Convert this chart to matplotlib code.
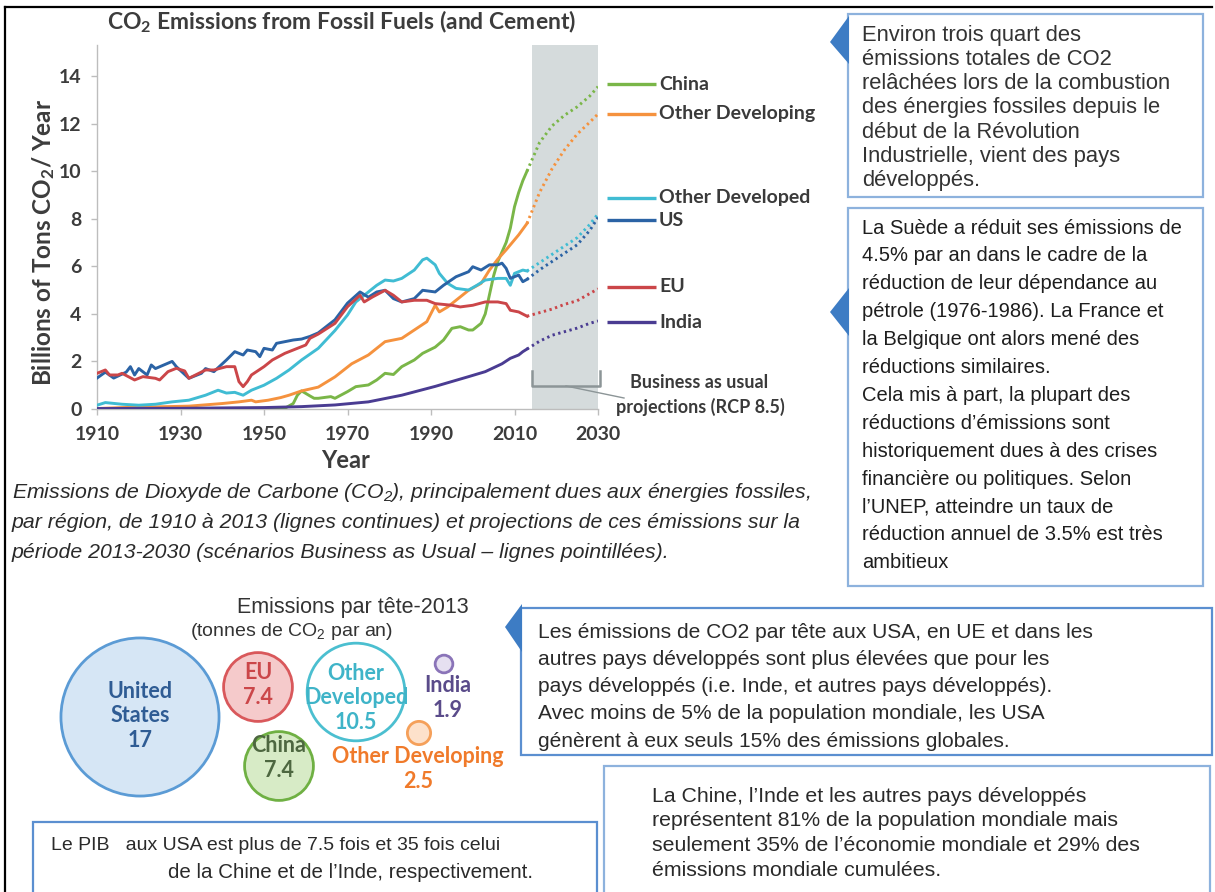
import matplotlib
matplotlib.use("Agg")
from matplotlib import pyplot as plt
from matplotlib.patches import Circle, Rectangle, Polygon

plt.rcParams['mathtext.default'] = 'regular'

# ---- emissions data (billions of tons CO2 / year) ----
us_years = [1910, 1912, 1914, 1917, 1918, 1919, 1920, 1922, 1923, 1924, 1926,
            1928, 1929, 1932, 1935, 1936, 1938, 1941, 1943, 1945, 1946, 1948,
            1949, 1950, 1952, 1953, 1955, 1957, 1959, 1961, 1963, 1967, 1970,
            1973, 1975, 1977, 1979, 1981, 1983, 1986, 1988, 1991, 1993, 1996,
            1999, 2000, 2002, 2004, 2006, 2007, 2008, 2009, 2011, 2012, 2013]
us_vals = [1.3, 1.55, 1.3, 1.55, 1.78, 1.43, 1.7, 1.43, 1.85, 1.7, 1.85,
           2.0, 1.78, 1.29, 1.5, 1.7, 1.57, 2.06, 2.41, 2.27, 2.48, 2.41,
           2.2, 2.55, 2.48, 2.76, 2.83, 2.9, 2.94, 3.05, 3.2, 3.75, 4.45,
           4.92, 4.7, 4.92, 4.99, 4.64, 4.5, 4.64, 4.99, 4.92, 5.2, 5.56,
           5.77, 5.98, 5.84, 6.06, 6.06, 6.13, 5.91, 5.49, 5.63, 5.35, 5.45]

eu_years = [1910, 1912, 1913, 1915, 1916, 1919, 1921, 1924, 1925, 1927, 1929,
            1931, 1932, 1936, 1938, 1941, 1943, 1944, 1945, 1946, 1947, 1950,
            1952, 1955, 1957, 1960, 1961, 1963, 1967, 1970, 1973, 1974, 1976,
            1979, 1981, 1983, 1986, 1989, 1991, 1995, 1997, 2000, 2003, 2006,
            2008, 2009, 2011, 2013]
eu_vals = [1.5, 1.64, 1.43, 1.43, 1.5, 1.22, 1.36, 1.29, 1.22, 1.57, 1.71,
           1.6, 1.29, 1.64, 1.64, 1.78, 1.78, 1.15, 0.94, 1.15, 1.43, 1.78,
           2.06, 2.34, 2.48, 2.69, 2.97, 3.15, 3.6, 4.3, 4.78, 4.5, 4.71,
           4.99, 4.78, 4.5, 4.57, 4.57, 4.43, 4.36, 4.29, 4.36, 4.5, 4.5,
           4.43, 4.15, 4.08, 3.9]

odev_years = [1910, 1912, 1916, 1920, 1924, 1928, 1932, 1936, 1939, 1941, 1943,
              1945, 1947, 1950, 1953, 1956, 1959, 1963, 1967, 1970, 1972, 1975,
              1977, 1979, 1981, 1983, 1986, 1988, 1989, 1991, 1992, 1994, 1996,
              1999, 2001, 2003, 2006, 2008, 2009, 2010, 2012, 2013]
odev_vals = [0.16, 0.27, 0.2, 0.16, 0.2, 0.3, 0.37, 0.58, 0.79, 0.67, 0.7,
             0.58, 0.79, 1.0, 1.29, 1.64, 2.06, 2.55, 3.3, 3.95, 4.5, 4.92,
             5.2, 5.42, 5.38, 5.49, 5.84, 6.27, 6.34, 6.06, 5.7, 5.28, 5.07,
             5.0, 5.2, 5.42, 5.49, 5.49, 5.2, 5.7, 5.84, 5.8]

odevg_years = [1910, 1916, 1924, 1932, 1940, 1944, 1947, 1948, 1951, 1954, 1956,
               1959, 1963, 1967, 1971, 1975, 1977, 1979, 1983, 1986, 1989, 1991,
               1992, 1994, 1997, 1999, 2002, 2004, 2006, 2008, 2011, 2013]
odevg_vals = [0.02, 0.06, 0.09, 0.12, 0.23, 0.3, 0.37, 0.3, 0.37, 0.48, 0.58,
              0.76, 0.92, 1.35, 1.9, 2.27, 2.55, 2.83, 2.97, 3.32, 3.67, 4.36,
              4.08, 4.29, 4.71, 4.99, 5.28, 5.84, 6.3, 6.69, 7.32, 7.8]

china_years = [1910, 1930, 1955, 1957, 1958, 1959, 1961, 1962, 1963, 1966, 1967,
               1970, 1972, 1975, 1977, 1979, 1981, 1983, 1986, 1988, 1991, 1993,
               1995, 1997, 1999, 2000, 2002, 2003, 2004, 2005, 2006, 2007, 2008,
               2009, 2010, 2011, 2012, 2013]
china_vals = [0.02, 0.02, 0.03, 0.23, 0.58, 0.76, 0.55, 0.45, 0.45, 0.52, 0.45,
              0.73, 0.94, 1.01, 1.22, 1.5, 1.45, 1.78, 2.06, 2.34, 2.6, 2.9,
              3.39, 3.46, 3.32, 3.32, 3.6, 4.0, 4.8, 5.6, 6.2, 6.6, 7.0,
              7.6, 8.5, 9.1, 9.6, 10.0]

india_years = [1910, 1930, 1950, 1959, 1967, 1975, 1983, 1991, 1999, 2003, 2007,
               2009, 2011, 2012, 2013]
india_vals = [0.02, 0.03, 0.06, 0.1, 0.17, 0.3, 0.58, 0.95, 1.36, 1.57, 1.9,
              2.13, 2.27, 2.41, 2.52]

# business-as-usual projections (dotted)
proj_years = [2013, 2016, 2019, 2022, 2025, 2028, 2030]
china_proj = [10.0, 11.2, 11.9, 12.35, 12.7, 13.15, 13.55]
odevg_proj = [7.8, 9.1, 10.1, 10.9, 11.55, 12.05, 12.4]
odev_proj = [5.8, 6.15, 6.5, 6.85, 7.2, 7.75, 8.2]
us_proj = [5.45, 5.85, 6.2, 6.55, 6.9, 7.5, 8.05]
eu_proj = [3.9, 4.05, 4.2, 4.4, 4.55, 4.85, 5.05]
india_proj = [2.52, 2.85, 3.1, 3.25, 3.4, 3.6, 3.7]

series_names = ['China', 'Other Developing', 'Other Developed', 'US', 'EU', 'India']
series_colors = ['#7ab648', '#f5923e', '#40bcd3', '#2b63a5', '#cb4649', '#4a3c92']
hist_years = [china_years, odevg_years, odev_years, us_years, eu_years, india_years]
hist_vals = [china_vals, odevg_vals, odev_vals, us_vals, eu_vals, india_vals]
proj_vals = [china_proj, odevg_proj, odev_proj, us_proj, eu_proj, india_proj]

# per-capita bubbles (tonnes CO2 / year, 2013)
bubble_names = ['United\nStates', 'EU', 'Other\nDeveloped', 'India', 'China',
                'Other Developing']
bubble_values = [17, 7.4, 10.5, 1.9, 7.4, 2.5]

# ---- figure ----
W, H = 1215, 892
fig = plt.figure(figsize=(W / 100, H / 100), dpi=100)
fig.patch.set_facecolor('white')

bg = fig.add_axes([0, 0, 1, 1])
bg.set_xlim(0, W)
bg.set_ylim(H, 0)
bg.axis('off')
bg.set_zorder(2)

# page frame (left and top)
bg.plot([5, 5], [7, H], color='black', lw=1.6)
bg.plot([5, 1212], [7, 7], color='black', lw=1.6)

# ---- line chart ----
ax = fig.add_axes([97 / W, 1 - 409 / H, (598 - 97) / W, (409 - 45) / H])
ax.set_zorder(1)
ax.set_xlim(1910, 2030)
ax.set_ylim(0, 15.3)
ax.axvspan(2014.3, 2030, color='#d5dbdc', zorder=0, lw=0)

for yrs, vals, pv, col in zip(hist_years, hist_vals, proj_vals, series_colors):
    ax.plot(yrs, vals, color=col, lw=2.1, zorder=3, solid_joinstyle='round')
    ax.plot(proj_years, pv, color=col, lw=2.1, ls=(0, (0.8, 1.2)), zorder=3)

for s in ['top', 'right']:
    ax.spines[s].set_visible(False)
for s in ['left', 'bottom']:
    ax.spines[s].set_color('#bdbdbd')
    ax.spines[s].set_linewidth(1.0)
ax.set_xticks(range(1910, 2031, 20))
ax.set_yticks(range(0, 15, 2))
ax.tick_params(colors='#bdbdbd', length=4, width=1.0)
for lab in ax.get_xticklabels() + ax.get_yticklabels():
    lab.set_color('#3c3c3c')
    lab.set_fontweight('bold')
    lab.set_fontsize(14)
    lab.set_family('Lato')
ax.tick_params(axis='x', pad=8)
ax.tick_params(axis='y', pad=7)

# legend labels at right of the chart
legend_y = [84, 114, 198, 220, 287, 322]
for name, col, ly in zip(series_names, series_colors, legend_y):
    bg.plot([607, 656], [ly, ly], color=col, lw=2.4, solid_capstyle='butt')
    bg.text(659, ly, name, ha='left', va='center', fontsize=14,
            fontweight='bold', color='#3a3a3a', family='Lato')

# bracket for projections
bg.plot([532, 532, 600, 600], [371, 386, 386, 371], color='#8c9597', lw=1.8)
bg.plot([566, 624], [386, 398], color='#8c9597', lw=1.0)
bg.text(699, 383, 'Business as usual', ha='center', va='center', fontsize=13,
        fontweight='bold', color='#3a3a3a', family='Lato')
bg.text(700, 407, 'projections (RCP 8.5)', ha='center', va='center',
        fontsize=13, fontweight='bold', color='#3a3a3a', family='Lato')

bg.text(342, 22, 'CO$_2$ Emissions from Fossil Fuels (and Cement)', ha='center',
        va='center', fontsize=16.5, fontweight='bold', color='#3c3c3c', family='Lato')
bg.text(44, 242, 'Billions of Tons CO$_2$/ Year', ha='center', va='center',
        rotation=90, fontsize=17.5, fontweight='bold', color='#3c3c3c', family='Lato')
bg.text(346, 460, 'Year', ha='center', va='center', fontsize=17,
        fontweight='bold', color='#3c3c3c', family='Lato')

# caption
caption = ['Emissions de Dioxyde de Carbone (CO$_2$), principalement dues aux énergies fossiles,',
           'par région, de 1910 à 2013 (lignes continues) et projections de ces émissions sur la',
           'période 2013-2030 (scénarios Business as Usual – lignes pointillées).']
for i, line in enumerate(caption):
    bg.text(12, 492 + i * 30, line, ha='left', va='center', fontsize=15.3,
            style='italic', color='#2a2a2a', family='Liberation Sans')

# ---- per-capita bubbles ----
bubble_xy = [(140, 717), (258, 687), (356, 692), (444, 664), (279, 766), (419, 733)]
bubble_face = ['#d6e6f5', '#f5cacb', '#ffffff', '#e6e0f1', '#d7ebc6', '#fde1cb']
bubble_edge = ['#5b9bd5', '#d9585b', '#4bbfd0', '#8a74b8', '#6fb043', '#f5a05a']
bubble_text = ['#2f5c94', '#cb4649', '#3fb4c8', '#5a4b8a', '#4d6740', '#f07a2a']
label_xy = [(140, 716), (258, 685), (356, 698), (448, 698), (279, 758), (418, 769)]
for name, v, xy, fc, ec, tc, lxy in zip(bubble_names, bubble_values, bubble_xy,
                                         bubble_face, bubble_edge, bubble_text,
                                         label_xy):
    bg.add_patch(Circle(xy, v * 4.65, facecolor=fc, edgecolor=ec, lw=2.0))
    bg.text(lxy[0], lxy[1], '%s\n%g' % (name, v), ha='center', va='center',
            fontsize=15.5, fontweight='bold', color=tc, family='Lato',
            linespacing=1.2)

bg.text(353, 607, 'Emissions par tête-2013', ha='center', va='center',
        fontsize=15.5, color='#333333', family='Liberation Sans')
bg.text(292, 632, '(tonnes de CO$_2$ par an)', ha='center', va='center',
        fontsize=14, color='#333333', family='Liberation Sans')


# ---- text boxes ----
def text_box(x0, y0, x1, y1, ec, lines, tx, ty, dy, size, color, weight='normal',
             pointer=None):
    bg.add_patch(Rectangle((x0, y0), x1 - x0, y1 - y0, facecolor='white',
                           edgecolor=ec, lw=1.6, zorder=2))
    if pointer is not None:
        bg.add_patch(Polygon(pointer, closed=True, facecolor='#3d7cc4',
                             edgecolor='none', zorder=3))
    for i, line in enumerate(lines):
        bg.text(tx, ty + i * dy, line, ha='left', va='center', fontsize=size,
                color=color, fontweight=weight, family='Liberation Sans', zorder=4)


text_box(848, 14, 1203, 197, '#8db2dd',
         ['Environ trois quart des', 'émissions totales de CO2',
          'relâchées lors de la combustion', 'des énergies fossiles depuis le',
          'début de la Révolution', 'Industrielle, vient des pays', 'développés.'],
         862, 35, 24.3, 15.8, '#333333',
         pointer=[(849, 16), (830, 42), (849, 64)])

text_box(848, 208, 1203, 586, '#8db2dd',
         ['La Suède a réduit ses émissions de', '4.5% par an dans le cadre de la',
          'réduction de leur dépendance au', 'pétrole (1976-1986). La France et',
          'la Belgique ont alors mené des', 'réductions similaires.',
          'Cela mis à part, la plupart des', 'réductions d’émissions sont',
          'historiquement dues à des crises', 'financière ou politiques. Selon',
          'l’UNEP, atteindre un taux de', 'réduction annuel de 3.5% est très',
          'ambitieux'],
         862, 228, 27.9, 14.5, '#1e1e1e',
         pointer=[(849, 288), (830, 312), (849, 336)])

text_box(521, 608, 1212, 755, '#5b8fd0',
         ['Les émissions de CO2 par tête aux USA, en UE et dans les',
          'autres pays développés sont plus élevées que pour les',
          'pays développés (i.e. Inde, et autres pays développés).',
          'Avec moins de 5% de la population mondiale, les USA',
          'génèrent à eux seuls 15% des émissions globales.'],
         538, 632, 27.3, 15.1, '#2a2a2a',
         pointer=[(522, 604), (505, 627), (522, 652)])

text_box(604, 766, 1210, 900, '#8db2dd',
         ['La Chine, l’Inde et les autres pays développés',
          'représentent 81% de la population mondiale mais',
          'seulement 35% de l’économie mondiale et 29% des',
          'émissions mondiale cumulées.'],
         652, 796, 24.7, 15.3, '#2a2a2a')

text_box(33, 822, 597, 900, '#5b8fd0',
         ['Le PIB   aux USA est plus de 7.5 fois et 35 fois celui'],
         51, 846, 26, 14.0, '#2a2a2a')
bg.text(168, 872, 'de la Chine et de l’Inde, respectivement.', ha='left',
        va='center', fontsize=14.8, color='#2a2a2a', family='Liberation Sans',
        zorder=4)

fig.savefig('out.png', dpi=100)
